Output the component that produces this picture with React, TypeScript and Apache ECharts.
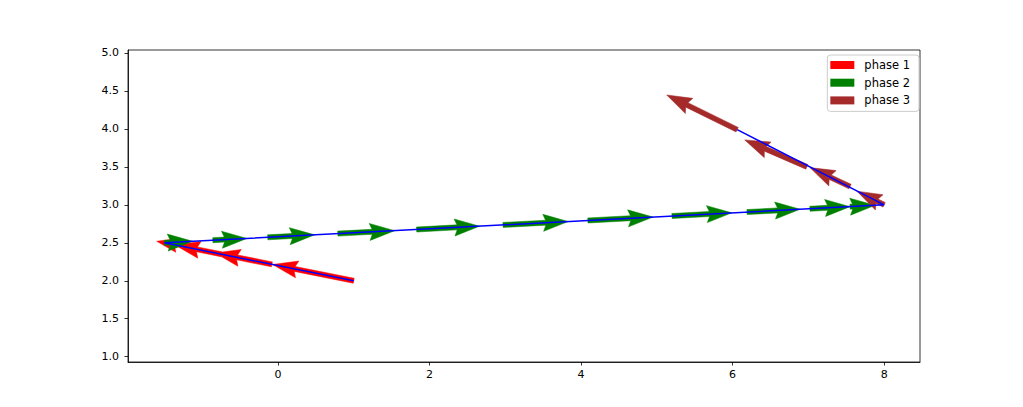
import React, { useEffect, useRef } from "react";
import * as echarts from "echarts";

// ---- data ----
const xTickValues = [0, 2, 4, 6, 8];
const yTickValues = [1.0, 1.5, 2.0, 2.5, 3.0, 3.5, 4.0, 4.5, 5.0];

// path drawn as the blue line
const pathX = [1.0, -1.5, 8.0, 6.06];
const pathY = [2.0, 2.5, 3.0, 3.99];

// phase 1 arrows (start x, start y, dx, dy)
const phase1X = [1.0, -0.08, -0.75, -1.33];
const phase1Y = [2.0, 2.216, 2.35, 2.466];
const phase1U = [-1.07, -0.75, -0.61, -0.27];
const phase1V = [0.214, 0.15, 0.122, 0.054];

// phase 2 arrows
const phase2X = [-1.5, -0.86, -0.135, 0.79, 1.83, 2.97, 4.09, 5.2, 6.19, 7.02, 7.55];
const phase2Y = [2.5, 2.534, 2.572, 2.621, 2.675, 2.735, 2.794, 2.853, 2.905, 2.948, 2.976];
const phase2U = [0.375, 0.45, 0.62, 0.75, 0.83, 0.86, 0.86, 0.79, 0.7, 0.53, 0.33];
const phase2V = [0.02, 0.024, 0.033, 0.039, 0.044, 0.045, 0.045, 0.042, 0.037, 0.028, 0.017];

// phase 3 arrows
const phase3X = [8.0, 7.55, 6.98, 6.06];
const phase3Y = [3.0, 3.24, 3.5, 3.99];
const phase3U = [-0.36, -0.53, -0.82, -0.93];
const phase3V = [0.18, 0.25, 0.355, 0.457];

const seriesNames = ["phase 1", "phase 2", "phase 3"];
const seriesColors = ["#ff0000", "#008000", "#a52a2a"];

const FONT = "DejaVu Sans";
const SHAFT_W = 5;
const HEAD_LEN = 25;
const HEAD_AXIS = 22.5;
const HEAD_W = 17;

function zip4(a: number[], b: number[], c: number[], d: number[]) {
  return a.map((v, i) => [v, b[i], c[i], d[i]]);
}

function arrowRenderer(color: string) {
  return (params: any, api: any) => {
    const x = api.value(0);
    const y = api.value(1);
    const u = api.value(2);
    const v = api.value(3);
    const p0 = api.coord([x, y]);
    const p1 = api.coord([x + u, y + v]);
    const dx = p1[0] - p0[0];
    const dy = p1[1] - p0[1];
    const L = Math.hypot(dx, dy);
    if (L === 0) return null;
    const ux = dx / L;
    const uy = dy / L;
    const nx = -uy;
    const ny = ux;
    const s = L < HEAD_LEN ? L / HEAD_LEN : 1;
    const w = (SHAFT_W * s) / 2;
    const hl = HEAD_LEN * s;
    const hal = HEAD_AXIS * s;
    const hw = (HEAD_W * s) / 2;
    const local = [
      [0, -w],
      [L - hal, -w],
      [L - hl, -hw],
      [L, 0],
      [L - hl, hw],
      [L - hal, w],
      [0, w],
    ];
    const pts = local.map(([a, b]) => [p0[0] + a * ux + b * nx, p0[1] + a * uy + b * ny]);
    return {
      type: "polygon",
      shape: { points: pts },
      style: { fill: color, stroke: color, lineWidth: 0.5 },
    };
  };
}

export default function App() {
  const ref = useRef<HTMLDivElement>(null);

  useEffect(() => {
    document.body.style.margin = "0";
    if (!ref.current) return;
    const chart = echarts.init(ref.current, null, { renderer: "svg" });

    const arrowSets = [
      zip4(phase1X, phase1Y, phase1U, phase1V),
      zip4(phase2X, phase2Y, phase2U, phase2V),
      zip4(phase3X, phase3Y, phase3U, phase3V),
    ];

    const axisLineStyle = { color: "#000", width: 0.8 };

    const option: any = {
      animation: false,
      backgroundColor: "#fff",
      grid: {
        left: 128,
        top: 50,
        right: 103,
        bottom: 45,
        show: true,
        borderColor: "#000",
        borderWidth: 0.8,
        backgroundColor: "transparent",
      },
      xAxis: {
        type: "value",
        min: -1.979,
        max: 8.473,
        splitLine: { show: false },
        axisLine: { show: true, onZero: false, lineStyle: axisLineStyle },
        axisTick: {
          show: true,
          length: 3.5,
          lineStyle: axisLineStyle,
          customValues: xTickValues,
        },
        axisLabel: {
          customValues: xTickValues,
          margin: 7,
          fontFamily: FONT,
          fontSize: 11,
          color: "#000",
          formatter: (v: number) => String(Math.round(v)),
        },
      },
      yAxis: {
        type: "value",
        min: 0.93,
        max: 5.039,
        splitLine: { show: false },
        axisLine: { show: true, onZero: false, lineStyle: axisLineStyle },
        axisTick: {
          show: true,
          length: 3.5,
          lineStyle: axisLineStyle,
          customValues: yTickValues,
        },
        axisLabel: {
          customValues: yTickValues,
          margin: 9,
          fontFamily: FONT,
          fontSize: 11,
          color: "#000",
          formatter: (v: number) => v.toFixed(1),
        },
      },
      legend: {
        data: seriesNames,
        orient: "vertical",
        right: 104,
        top: 55,
        icon: "rect",
        itemWidth: 24,
        itemHeight: 8,
        itemGap: 3.7,
        padding: [3, 9, 4, 3],
        borderColor: "#cccccc",
        borderWidth: 1,
        borderRadius: 3,
        backgroundColor: "rgba(255,255,255,0.8)",
        textStyle: {
          fontFamily: FONT,
          fontSize: 11.5,
          color: "#000",
          lineHeight: 14,
          padding: [0, 0, 0, 5],
        },
      },
      series: [
        ...arrowSets.map((data, i) => ({
          name: seriesNames[i],
          type: "custom",
          coordinateSystem: "cartesian2d",
          itemStyle: { color: seriesColors[i] },
          encode: { x: 0, y: 1 },
          renderItem: arrowRenderer(seriesColors[i]),
          data,
          z: 2 + i,
          silent: true,
        })),
        {
          name: "path",
          type: "line",
          data: pathX.map((x, i) => [x, pathY[i]]),
          showSymbol: false,
          symbol: "none",
          lineStyle: { color: "#0000ff", width: 1.5 },
          z: 10,
          silent: true,
        },
      ],
    };

    chart.setOption(option);
    return () => chart.dispose();
  }, []);

  return <div ref={ref} style={{ width: "1023px", height: "407px" }} />;
}
